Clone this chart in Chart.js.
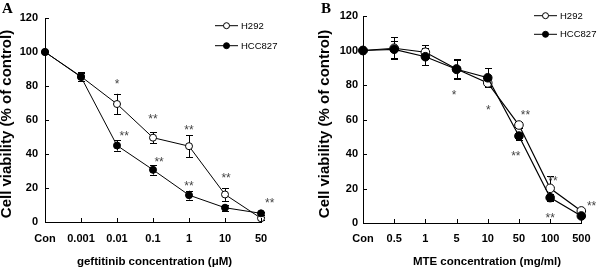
<!DOCTYPE html>
<html><head><meta charset="utf-8">
<script src="https://cdn.jsdelivr.net/npm/chart.js@4/dist/chart.umd.min.js"></script>
<style>
html,body{margin:0;padding:0;background:#fff;width:600px;height:270px;overflow:hidden}
.p{position:absolute;top:0;width:300px;height:270px}
canvas{display:block}
</style></head><body>
<div class="p" style="left:0"><canvas id="cA" width="300" height="270"></canvas></div>
<div class="p" style="left:300px"><canvas id="cB" width="300" height="270"></canvas></div>
<script>
// ---------- data ----------
const yTicks = [0, 20, 40, 60, 80, 100, 120];

const catsA = ['Con', '0.001', '0.01', '0.1', '1', '10', '50'];
const h292A = [100, 85.6, 69.4, 49.6, 44.6, 16.2, 2.2];
const h292ErrA = [0, 2.5, 6, 3.3, 6.4, 3.8, 0.8];
const hcc827A = [100, 85.3, 45, 30.7, 15.8, 8.4, 5.1];
const hcc827ErrA = [0, 2.5, 3, 2.8, 2.6, 1.8, 0.8];
const sigTextA = ['*', '**', '**', '**', '**', '**', '**', '**'];
const sigCatA = [2, 3, 4, 2.2, 3.17, 4, 5.03, 6.24];
const sigValA = [83, 62.4, 55.7, 52.2, 37, 23, 27.6, 12.9];

const catsB = ['Con', '0.5', '1', '5', '10', '50', '100', '500'];
const h292B = [100, 101.3, 99, 89.3, 81.2, 56.8, 20.1, 7.0];
const h292ErrB = [0, 6.5, 4, 5.5, 2, 2, 7, 1];
const hcc827B = [100, 100.7, 96.4, 89.1, 84.2, 50.4, 14.7, 4.1];
const hcc827ErrB = [0, 5, 5, 5.5, 5.4, 2, 2, 1];
const sigTextB = ['*', '*', '**', '**', '**', '**', '**'];
const sigCatB = [2.92, 4.02, 5.21, 4.9, 6.09, 6.0, 7.33];
const sigValB = [75.9, 67.2, 64.3, 40.6, 26.1, 4.6, 11.6];

const FAM = '"Liberation Sans", Arial, sans-serif';
Chart.defaults.font.family = FAM;

// ---------- plugins ----------
const errBars = {
  id: 'errBars',
  beforeDatasetsDraw(chart, args, o) {
    const ctx = chart.ctx, y = chart.scales.y;
    ctx.save();
    ctx.strokeStyle = '#000'; ctx.lineWidth = 1;
    chart.data.datasets.forEach((ds, di) => {
      const meta = chart.getDatasetMeta(di);
      ds.errors.forEach((e, i) => {
        if (!e) return;
        const px = Math.round(meta.data[i].x) + 0.5;
        const t = y.getPixelForValue(ds.data[i] + e), b = y.getPixelForValue(ds.data[i] - e);
        ctx.beginPath();
        ctx.moveTo(px, t); ctx.lineTo(px, b);
        ctx.moveTo(px - o.cap, Math.round(t) + 0.5); ctx.lineTo(px + o.cap, Math.round(t) + 0.5);
        ctx.moveTo(px - o.cap, Math.round(b) + 0.5); ctx.lineTo(px + o.cap, Math.round(b) + 0.5);
        ctx.stroke();
      });
    });
    ctx.restore();
  }
};

const inTicks = {
  id: 'inTicks',
  afterDraw(chart) {
    const {ctx, chartArea: a} = chart, x = chart.scales.x, y = chart.scales.y;
    ctx.save(); ctx.strokeStyle = '#000'; ctx.lineWidth = 1; ctx.beginPath();
    x.ticks.forEach((t, i) => { const px = Math.round(x.getPixelForTick(i)) + 0.5; ctx.moveTo(px, a.bottom); ctx.lineTo(px, a.bottom - 4); });
    y.ticks.forEach((t, i) => { const py = Math.round(y.getPixelForTick(i)) + 0.5; ctx.moveTo(a.left, py); ctx.lineTo(a.left + 4, py); });
    ctx.stroke(); ctx.restore();
  }
};

const sigMarks = {
  id: 'sigMarks',
  afterDatasetsDraw(chart, args, o) {
    const ctx = chart.ctx, x = chart.scales.x, y = chart.scales.y;
    ctx.save();
    ctx.fillStyle = '#444'; ctx.font = o.size + 'px ' + FAM;
    ctx.textAlign = 'center'; ctx.textBaseline = 'alphabetic';
    o.text.forEach((s, i) => {
      ctx.fillText(s, x.getPixelForValue(o.cat[i]), y.getPixelForValue(o.val[i]) + o.size * 0.58);
    });
    ctx.restore();
  }
};

const keyBox = {
  id: 'keyBox',
  afterDraw(chart, args, o) {
    const ctx = chart.ctx;
    ctx.save();
    chart.data.datasets.forEach((ds, i) => {
      const yy = o.y[i];
      ctx.strokeStyle = '#000'; ctx.lineWidth = 1;
      ctx.beginPath(); ctx.moveTo(o.x, yy); ctx.lineTo(o.x + o.len, yy); ctx.stroke();
      ctx.beginPath(); ctx.arc(o.x + o.len / 2, yy, o.r, 0, Math.PI * 2);
      ctx.fillStyle = ds.pointBackgroundColor; ctx.fill(); ctx.stroke();
      ctx.fillStyle = '#000'; ctx.font = o.size + 'px ' + FAM;
      ctx.textAlign = 'left'; ctx.textBaseline = 'middle';
      ctx.fillText(ds.label, o.x + o.len + 3, yy + 0.5);
    });
    ctx.restore();
  }
};

const titles = {
  id: 'titles',
  afterDraw(chart, args, o) {
    const ctx = chart.ctx;
    ctx.save();
    ctx.fillStyle = '#000';
    ctx.textAlign = 'center'; ctx.textBaseline = 'middle';
    ctx.font = 'bold ' + o.xSize + 'px ' + FAM;
    ctx.fillText(o.xText, o.xX, o.xY);
    ctx.save();
    ctx.translate(o.yX, o.yY); ctx.rotate(-Math.PI / 2);
    ctx.font = 'bold ' + o.ySize + 'px ' + FAM;
    ctx.fillText(o.yText, 0, 0);
    ctx.restore();
    ctx.font = 'bold 15px "Liberation Serif", "Times New Roman", serif';
    ctx.textAlign = 'left'; ctx.textBaseline = 'alphabetic';
    ctx.fillText(o.panel, o.pX, o.pY);
    ctx.restore();
  }
};

function build(id, cats, d1, e1, d2, e2, c) {
  return new Chart(document.getElementById(id), {
    type: 'line',
    data: {
      labels: cats,
      datasets: [
        {label: 'H292', data: d1, errors: e1, order: 1, borderColor: '#000', borderWidth: c.lw,
         pointRadius: c.r, pointBackgroundColor: '#fff', pointBorderColor: '#000', pointBorderWidth: 1, tension: 0, fill: false},
        {label: 'HCC827', data: d2, errors: e2, order: 0, borderColor: '#000', borderWidth: c.lw,
         pointRadius: c.r, pointBackgroundColor: '#000', pointBorderColor: '#000', pointBorderWidth: 1, tension: 0, fill: false}
      ]
    },
    options: {
      responsive: false, animation: false, devicePixelRatio: 1,
      layout: {padding: {left: 0, top: c.top, right: c.right, bottom: 0}},
      scales: {
        x: {type: 'category', offset: false,
            grid: {display: false, drawTicks: false, offset: false},
            border: {display: true, color: '#000', width: 1},
            ticks: {font: {size: 11, weight: 'bold'}, color: '#000', padding: c.xpad, autoSkip: false, maxRotation: 0},
            afterFit: s => { s.height = c.xh; }},
        y: {min: 0, max: 120,
            afterBuildTicks: s => { s.ticks = yTicks.map(v => ({value: v})); },
            grid: {display: false, drawTicks: false},
            border: {display: true, color: '#000', width: 1},
            ticks: {font: {size: 11, weight: 'bold'}, color: '#000', padding: c.ypad},
            afterFit: s => { s.width = c.yw; }}
      },
      plugins: {
        legend: {display: false}, tooltip: {enabled: false},
        errBars: {cap: 3.5},
        sigMarks: c.sig,
        keyBox: c.key,
        titles: c.titles
      }
    },
    plugins: [errBars, inTicks, sigMarks, keyBox, titles]
  });
}

build('cA', catsA, h292A, h292ErrA, hcc827A, hcc827ErrA, {
  lw: 1, r: 3.5, top: 18, right: 39, xh: 48, yw: 45, xpad: 10, ypad: 7,
  sig: {text: sigTextA, cat: sigCatA, val: sigValA, size: 12},
  key: {x: 215, len: 23, y: [25.7, 45.7], r: 3, size: 9.5},
  titles: {xText: 'geftitinib concentration (\u03bcM)', xX: 154.5, xY: 262, xSize: 11.5,
           yText: 'Cell viability (% of control)', yX: 6.5, yY: 124, ySize: 15,
           panel: 'A', pX: 2, pY: 13}
});

build('cB', catsB, h292B, h292ErrB, hcc827B, hcc827ErrB, {
  lw: 1.2, r: 4.3, top: 16, right: 14, xh: 47, yw: 63, xpad: 9.5, ypad: 5,
  sig: {text: sigTextB, cat: sigCatB, val: sigValB, size: 12},
  key: {x: 234, len: 23, y: [15.7, 34.3], r: 3, size: 9.5},
  titles: {xText: 'MTE concentration (mg/ml)', xX: 187, xY: 262, xSize: 11.5,
           yText: 'Cell viability (% of control)', yX: 25, yY: 124, ySize: 15,
           panel: 'B', pX: 21, pY: 12.5}
});
</script>
</body></html>
